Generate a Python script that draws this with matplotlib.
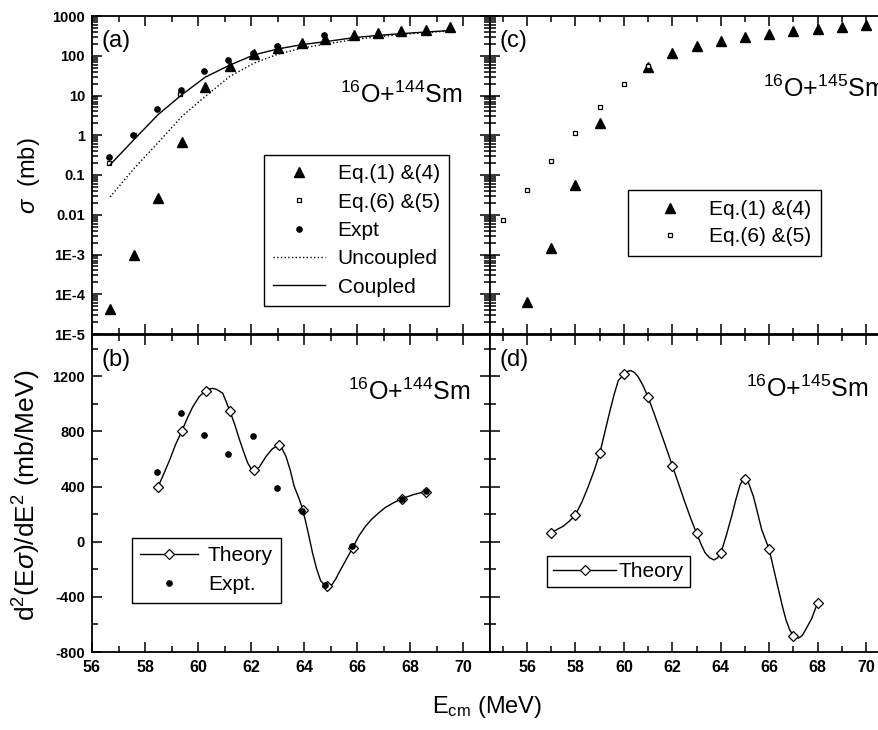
import numpy as np
import matplotlib.pyplot as plt
from matplotlib.ticker import MultipleLocator, LogLocator, NullFormatter

plt.rcParams['font.family'] = ['Liberation Sans', 'DejaVu Sans']
plt.rcParams['mathtext.fontset'] = 'custom'
plt.rcParams['mathtext.rm'] = 'Liberation Sans'
plt.rcParams['mathtext.it'] = 'Liberation Sans:italic'
plt.rcParams['mathtext.bf'] = 'Liberation Sans:bold'
plt.rcParams['axes.linewidth'] = 1.3

# ---- panel (a): 16O+144Sm cross sections (mb) ----
e_a = [56.68, 57.6, 58.49, 59.39, 60.27, 61.19, 62.1, 63.0, 63.9, 64.77,
       65.87, 66.77, 67.66, 68.57, 69.48]
eq14_a = [4.3e-5, 1.0e-3, 0.026, 0.66, 16, 56, 110, 160, 213, 258,
          333, 365, 420, 455, 530]
coupled_a = [0.18, 0.8, 3.3, 10.5, 29, 58, 105, 148, 190, 225,
             285, 325, 360, 395, 430]
uncoupled_a = [0.028, 0.15, 0.65, 3.0, 9.5, 30, 65, 109, 155, 195,
               255, 300, 345, 380, 420]
e_eq65_a = [56.64, 57.6, 59.33, 62.06, 63.0]
eq65_a = [0.2, 1.0, 11, 110, 165]
e_expt_a = [56.64, 57.55, 58.44, 59.36, 60.23, 61.14, 62.06, 62.96, 64.75]
expt_a = [0.28, 1.0, 4.5, 14, 42, 78, 115, 175, 327]

# ---- panel (b): 16O+144Sm barrier distribution (mb/MeV) ----
e_th_b = [58.49, 59.39, 60.29, 61.19, 62.1, 63.03, 63.95, 64.84, 65.82, 67.67, 68.57]
th_b = [398, 805, 1096, 952, 523, 701, 231, -320, -46, 313, 364]
e_curve_b = [58.49, 58.7, 58.93, 59.15, 59.39, 59.6, 59.8, 60.05, 60.29, 60.42,
             60.55, 60.7, 60.93, 61.19, 61.38, 61.56, 61.72, 61.87, 62.0, 62.12,
             62.3, 62.56, 62.8, 63.03, 63.15, 63.31, 63.47, 63.62, 63.8, 63.95,
             64.13, 64.31, 64.47, 64.62, 64.75, 64.84, 64.94, 65.05, 65.18, 65.31,
             65.55, 65.82, 66.05, 66.31, 66.55, 66.81, 67.05, 67.31, 67.67, 68.12,
             68.57]
curve_b = [398, 490, 595, 705, 805, 900, 980, 1055, 1096, 1108,
           1113, 1105, 1077, 952, 850, 740, 650, 571, 530, 518,
           540, 619, 675, 701, 680, 619, 520, 402, 315, 231,
           80, -80, -200, -284, -312, -320, -325, -310, -272, -224,
           -140, -46, 40, 113, 165, 210, 248, 277, 313, 342,
           364]
e_expt_b = [58.44, 59.36, 60.23, 61.14, 62.06, 62.98, 63.9, 64.8, 65.8, 67.67, 68.57]
expt_b = [504, 935, 776, 639, 766, 390, 224, -313, -29, 313, 369]

# ---- panel (c): 16O+145Sm cross sections (mb) ----
e_eq14_c = [56, 57, 58, 59, 61, 62, 63, 64, 65, 66, 67, 68, 69, 70]
eq14_c = [6.3e-5, 1.5e-3, 0.056, 2.0, 51, 115, 178, 235, 302, 360, 420, 480, 528, 583]
e_eq65_c = [55, 56, 57, 58, 59, 60, 61]
eq65_c = [0.0074, 0.042, 0.22, 1.12, 5.2, 20, 55]

# ---- panel (d): 16O+145Sm barrier distribution (mb/MeV) ----
e_th_d = [57, 58, 59, 60, 61, 62, 63, 64, 65, 66, 67, 68]
th_d = [65, 195, 646, 1216, 1047, 553, 62, -84, 454, -55, -681, -444]
e_curve_d = [57.0, 57.25, 57.5, 57.75, 58.0, 58.27, 58.53, 58.78, 59.01, 59.22,
             59.43, 59.6, 59.77, 60.0, 60.14, 60.28, 60.44, 60.6, 60.8, 61.0,
             61.25, 61.49, 61.75, 62.0, 62.27, 62.53, 62.77, 63.0, 63.18, 63.35,
             63.53, 63.72, 63.86, 64.0, 64.22, 64.45, 64.63, 64.8, 64.9, 65.0,
             65.12, 65.35, 65.52, 65.69, 66.0, 66.19, 66.38, 66.55, 66.7, 66.85,
             67.0, 67.12, 67.23, 67.37, 67.5, 67.75, 68.0]
curve_d = [65, 90, 113, 150, 195, 290, 401, 520, 646, 800,
           954, 1070, 1170, 1216, 1236, 1242, 1228, 1194, 1130, 1047,
           930, 810, 680, 553, 415, 281, 165, 62, -15, -79,
           -115, -132, -118, -84, 40, 185, 310, 413, 445, 458,
           440, 329, 210, 89, -55, -200, -344, -470, -570, -640,
           -681, -697, -698, -680, -640, -560, -444]

log_ticks = [1e-5, 1e-4, 1e-3, 0.01, 0.1, 1, 10, 100, 1000]
log_labels = ['1E-5', '1E-4', '1E-3', '0.01', '0.1', '1', '10', '100', '1000']
lin_ticks = [-800, -400, 0, 400, 800, 1200]
x_ticks = [56, 58, 60, 62, 64, 66, 68, 70]

W, H = 879, 730
fig = plt.figure(figsize=(W / 100, H / 100), dpi=100)

def px_axes(x0, y0, x1, y1):
    return fig.add_axes([x0 / W, 1 - y1 / H, (x1 - x0) / W, (y1 - y0) / H])

ax_a = px_axes(92, 16, 490, 334)
ax_c = px_axes(490, 16, 889, 334)
ax_b = px_axes(92, 335, 490, 652)
ax_d = px_axes(490, 335, 889, 652)

ytick_font = dict(family='Liberation Sans', weight='bold', size=10.5)
xtick_font = dict(family='Liberation Sans', weight='bold', size=11.5)

for ax in [ax_a, ax_b, ax_c, ax_d]:
    ax.tick_params(which='both', direction='in', top=True, right=True, width=1.1)
    ax.tick_params(which='major', length=7)
    ax.tick_params(which='minor', length=4)
    ax.tick_params(axis='y', pad=5)
    ax.tick_params(axis='x', pad=6)

for ax in [ax_a, ax_c]:
    ax.set_yscale('log')
    ax.set_ylim(1e-5, 1000)

for ax in [ax_b, ax_d]:
    ax.set_ylim(-800, 1500)

ax_a.set_xlim(56, 71)
ax_b.set_xlim(56, 71)
ax_c.set_xlim(54.47, 70.95)
ax_d.set_xlim(54.47, 70.95)

ax_a.set_yticks(log_ticks, log_labels, **ytick_font)
ax_c.set_yticks(log_ticks, [''] * len(log_ticks))
ax_b.set_yticks(lin_ticks, [str(v) for v in lin_ticks], **ytick_font)
ax_d.set_yticks(lin_ticks, [''] * len(lin_ticks))
ax_b.set_xticks(x_ticks, [str(v) for v in x_ticks], **xtick_font)
ax_d.set_xticks(x_ticks, [str(v) for v in x_ticks], **xtick_font)
ax_a.set_xticks(x_ticks, [''] * len(x_ticks))
ax_c.set_xticks(x_ticks, [''] * len(x_ticks))
for ax in [ax_a, ax_b, ax_c, ax_d]:
    ax.xaxis.set_minor_locator(MultipleLocator(1))
for ax in [ax_a, ax_c]:
    ax.yaxis.set_minor_locator(LogLocator(base=10, subs=np.arange(2, 10), numticks=100))
    ax.yaxis.set_minor_formatter(NullFormatter())
for ax in [ax_b, ax_d]:
    ax.yaxis.set_minor_locator(MultipleLocator(200))

# (a)
ax_a.plot(e_a, eq14_a, '^', color='k', ms=6.5, label='Eq.(1) &(4)')
ax_a.plot(e_eq65_a, eq65_a, 's', mfc='white', mec='k', ms=3.5, mew=0.9, label='Eq.(6) &(5)')
ax_a.plot(e_expt_a, expt_a, 'o', color='k', ms=3.8, label='Expt')
ax_a.plot(e_a, uncoupled_a, ':', color='k', lw=1.0, label='Uncoupled')
ax_a.plot(e_a, coupled_a, '-', color='k', lw=1.0, label='Coupled')

# (b)
ax_b.plot(e_curve_b, curve_b, '-', color='k', lw=1.0)
ax_b.plot(e_th_b, th_b, 'D', mfc='white', mec='k', ms=5, mew=0.9)
expt_handle_b, = ax_b.plot(e_expt_b, expt_b, 'o', color='k', ms=3.8, label='Expt.')
th_handle_b, = ax_b.plot([], [], '-D', color='k', mfc='white', mec='k', ms=5, mew=0.9, lw=1.0, label='Theory')

# (c)
ax_c.plot(e_eq14_c, eq14_c, '^', color='k', ms=6.5, label='Eq.(1) &(4)')
ax_c.plot(e_eq65_c, eq65_c, 's', mfc='white', mec='k', ms=3.5, mew=0.9, label='Eq.(6) &(5)')

# (d)
ax_d.plot(e_curve_d, curve_d, '-', color='k', lw=1.0)
ax_d.plot(e_th_d, th_d, 'D', mfc='white', mec='k', ms=5, mew=0.9)
th_handle_d, = ax_d.plot([], [], '-D', color='k', mfc='white', mec='k', ms=5, mew=0.9, lw=1.0, label='Theory')

leg_kw = dict(loc='upper left', borderaxespad=0, fancybox=False, framealpha=1,
              edgecolor='k', fontsize=15)
lg_a = ax_a.legend(bbox_to_anchor=(0.432, 0.563), handlelength=2.5, handletextpad=0.6,
                   labelspacing=0.45, borderpad=0.44, **leg_kw)
lg_b = ax_b.legend(handles=[th_handle_b, expt_handle_b], bbox_to_anchor=(0.1, 0.36),
                   handlelength=2.8, handletextpad=0.45, labelspacing=0.48, borderpad=0.4, **leg_kw)
lg_c = ax_c.legend(bbox_to_anchor=(0.346, 0.453), handlelength=3.1, handletextpad=0.3,
                   labelspacing=0.38, borderpad=0.48, **leg_kw)
lg_d = ax_d.legend(handles=[th_handle_d], bbox_to_anchor=(0.143, 0.303), handlelength=3.0,
                   handletextpad=0.15, borderpad=0.3, **leg_kw)
for lg in [lg_a, lg_b, lg_c, lg_d]:
    lg.get_frame().set_linewidth(1.0)

label_font = dict(fontsize=17, va='top', ha='left')
ax_a.text(0.023, 0.955, '(a)', transform=ax_a.transAxes, **label_font)
ax_b.text(0.023, 0.955, '(b)', transform=ax_b.transAxes, **label_font)
ax_c.text(0.023, 0.955, '(c)', transform=ax_c.transAxes, **label_font)
ax_d.text(0.023, 0.955, '(d)', transform=ax_d.transAxes, **label_font)

sys_font = dict(fontsize=18, va='baseline', ha='left')
ax_a.text(0.623, 0.726, r'$^{16}$O+$^{144}$Sm', transform=ax_a.transAxes, **sys_font)
ax_b.text(0.643, 0.795, r'$^{16}$O+$^{144}$Sm', transform=ax_b.transAxes, **sys_font)
ax_c.text(0.684, 0.745, r'$^{16}$O+$^{145}$Sm', transform=ax_c.transAxes, **sys_font)
ax_d.text(0.642, 0.804, r'$^{16}$O+$^{145}$Sm', transform=ax_d.transAxes, **sys_font)

fig.text(29 / W, 1 - 176 / H, r'$\sigma$  (mb)', rotation=90, ha='center', va='center', fontsize=17)
fig.text(27 / W, 1 - 495 / H, r'd$^2$(E$\sigma$)/dE$^2$ (mb/MeV)', rotation=90,
         ha='center', va='center', fontsize=19)
fig.text(487 / W, 1 - 707 / H, r'E$_{\mathrm{cm}}$ (MeV)', ha='center', va='center', fontsize=17)

fig.savefig('out.png', dpi=100)
